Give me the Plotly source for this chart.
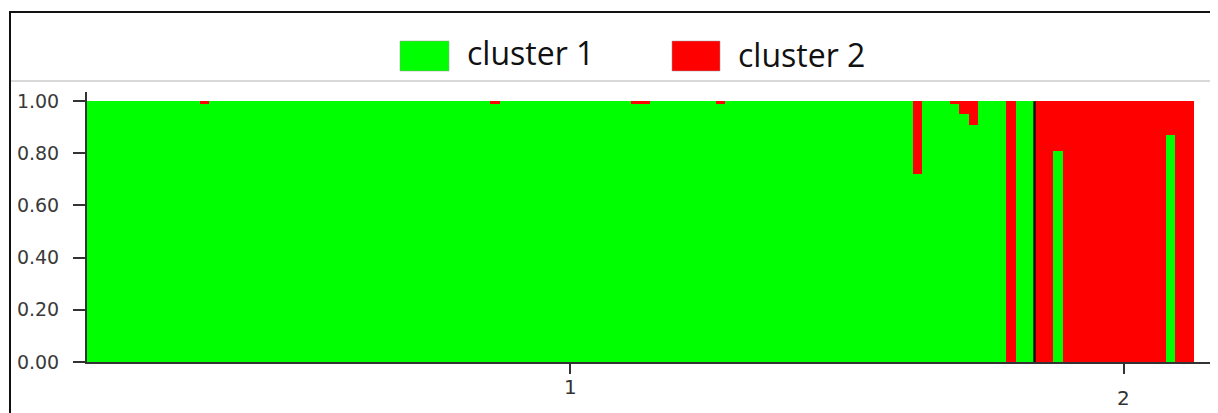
import plotly.graph_objects as go

# ---- data ----
cluster_names = ["cluster 1", "cluster 2"]
cluster_colors = ["#00FF00", "#FF0000"]
pop_labels = ["1", "2"]
pop_sizes = [101, 17]

# membership coefficients per individual (Q), population 1 then population 2
cluster1_q = [
    1.00, 1.00, 1.00, 1.00, 1.00, 1.00, 1.00, 1.00, 1.00, 1.00,
    1.00, 1.00, 0.99, 1.00, 1.00, 1.00, 1.00, 1.00, 1.00, 1.00,
    1.00, 1.00, 1.00, 1.00, 1.00, 1.00, 1.00, 1.00, 1.00, 1.00,
    1.00, 1.00, 1.00, 1.00, 1.00, 1.00, 1.00, 1.00, 1.00, 1.00,
    1.00, 1.00, 1.00, 0.99, 1.00, 1.00, 1.00, 1.00, 1.00, 1.00,
    1.00, 1.00, 1.00, 1.00, 1.00, 1.00, 1.00, 1.00, 0.99, 0.99,
    1.00, 1.00, 1.00, 1.00, 1.00, 1.00, 1.00, 0.99, 1.00, 1.00,
    1.00, 1.00, 1.00, 1.00, 1.00, 1.00, 1.00, 1.00, 1.00, 1.00,
    1.00, 1.00, 1.00, 1.00, 1.00, 1.00, 1.00, 1.00, 0.72, 1.00,
    1.00, 1.00, 0.99, 0.95, 0.91, 1.00, 1.00, 1.00, 0.00, 1.00,
    1.00,
    0.00, 0.00, 0.81, 0.00, 0.00, 0.00, 0.00, 0.00, 0.00, 0.00,
    0.00, 0.00, 0.00, 0.00, 0.87, 0.00, 0.00,
]
cluster2_q = [
    0.00, 0.00, 0.00, 0.00, 0.00, 0.00, 0.00, 0.00, 0.00, 0.00,
    0.00, 0.00, 0.01, 0.00, 0.00, 0.00, 0.00, 0.00, 0.00, 0.00,
    0.00, 0.00, 0.00, 0.00, 0.00, 0.00, 0.00, 0.00, 0.00, 0.00,
    0.00, 0.00, 0.00, 0.00, 0.00, 0.00, 0.00, 0.00, 0.00, 0.00,
    0.00, 0.00, 0.00, 0.01, 0.00, 0.00, 0.00, 0.00, 0.00, 0.00,
    0.00, 0.00, 0.00, 0.00, 0.00, 0.00, 0.00, 0.00, 0.01, 0.01,
    0.00, 0.00, 0.00, 0.00, 0.00, 0.00, 0.00, 0.01, 0.00, 0.00,
    0.00, 0.00, 0.00, 0.00, 0.00, 0.00, 0.00, 0.00, 0.00, 0.00,
    0.00, 0.00, 0.00, 0.00, 0.00, 0.00, 0.00, 0.00, 0.28, 0.00,
    0.00, 0.00, 0.01, 0.05, 0.09, 0.00, 0.00, 0.00, 1.00, 0.00,
    0.00,
    1.00, 1.00, 0.19, 1.00, 1.00, 1.00, 1.00, 1.00, 1.00, 1.00,
    1.00, 1.00, 1.00, 1.00, 0.13, 1.00, 1.00,
]
y_ticks = [0.0, 0.2, 0.4, 0.6, 0.8, 1.0]

# ---- layout helpers (pixel geometry, page has an 8px body margin) ----
OFF = 8
W, H = 1218 - OFF, 413 - OFF
ML, MR, MT, MB = 87 - OFF, 8, 92 - OFF, 51
PW, PH = W - ML - MR, H - MT - MB


def px_x(px):
    return (px - OFF - ML) / PW


def px_y(py):
    return (H - MB - (py - OFF)) / PH


n = len(cluster1_q)
xs = list(range(n))
bar_px = (1194 - 87) / n

fig = go.Figure()
for name, color, q in zip(cluster_names, cluster_colors, [cluster1_q, cluster2_q]):
    fig.add_trace(go.Bar(x=xs, y=q, name=name, marker=dict(color=color, line=dict(width=0)),
                         showlegend=False, hoverinfo="skip"))

# population boundaries and label positions
bounds = [0]
for s in pop_sizes:
    bounds.append(bounds[-1] + s)
label_shift = 0.5
centers = [(bounds[i] + bounds[i + 1]) / 2 + label_shift for i in range(len(pop_sizes))]

shapes = []
for b in bounds[1:-1]:
    shapes.append(dict(type="line", xref="x", yref="y", x0=b - 0.5, x1=b - 0.5, y0=0, y1=1,
                       line=dict(color="#111111", width=2.5)))

# outer frame and separator
shapes.append(dict(type="line", xref="paper", yref="paper", x0=px_x(10), x1=px_x(1215),
                   y0=px_y(81), y1=px_y(81), line=dict(color="#cccccc", width=1.5)))
shapes.append(dict(type="rect", xref="paper", yref="paper", x0=px_x(10), x1=px_x(1215),
                   y0=px_y(12), y1=px_y(440), line=dict(color="#111111", width=2)))

# legend swatches
legend_boxes = [(400, 449), (672, 720)]
legend_text_x = [465, 736]
legend_text_y = [52, 55]
annotations = []
for (x0, x1), color, name, tx, ty in zip(legend_boxes, cluster_colors, cluster_names,
                                         legend_text_x, legend_text_y):
    shapes.append(dict(type="rect", xref="paper", yref="paper", x0=px_x(x0), x1=px_x(x1),
                       y0=px_y(41), y1=px_y(71), fillcolor=color,
                       line=dict(color="#999999", width=0.5)))
    annotations.append(dict(text=name, xref="paper", yref="paper", x=px_x(tx), y=px_y(ty),
                            xanchor="left", yanchor="middle", showarrow=False,
                            font=dict(family="Open Sans", size=32, color="#111111")))

# population labels (staggered)
label_y = [387, 398]
for lab, c, ly in zip(pop_labels, centers, label_y):
    annotations.append(dict(text=lab, xref="x", yref="paper", x=c, y=px_y(ly),
                            xanchor="center", yanchor="middle", showarrow=False,
                            font=dict(family="DejaVu Sans", size=20, color="#333333")))

fig.update_layout(
    width=W, height=H,
    margin=dict(l=ML, r=MR, t=MT, b=MB, pad=0),
    barmode="stack", bargap=0,
    plot_bgcolor="white", paper_bgcolor="white",
    shapes=shapes, annotations=annotations,
    xaxis=dict(range=[-0.5, -0.5 + PW / bar_px], showgrid=False, zeroline=False,
               showline=True, linecolor="#333333", linewidth=2,
               ticks="outside", ticklen=10, tickwidth=2, tickcolor="#333333",
               tickvals=centers, showticklabels=False),
    yaxis=dict(range=[0, 1.035], showgrid=False, zeroline=False,
               showline=True, linecolor="#333333", linewidth=2,
               ticks="outside", ticklen=12, tickwidth=2, tickcolor="#333333",
               tickvals=y_ticks, tickformat=".2f", ticklabelstandoff=10,
               tickfont=dict(family="DejaVu Sans", size=19, color="#3a3a3a")),
)

fig.write_html("out.html")
